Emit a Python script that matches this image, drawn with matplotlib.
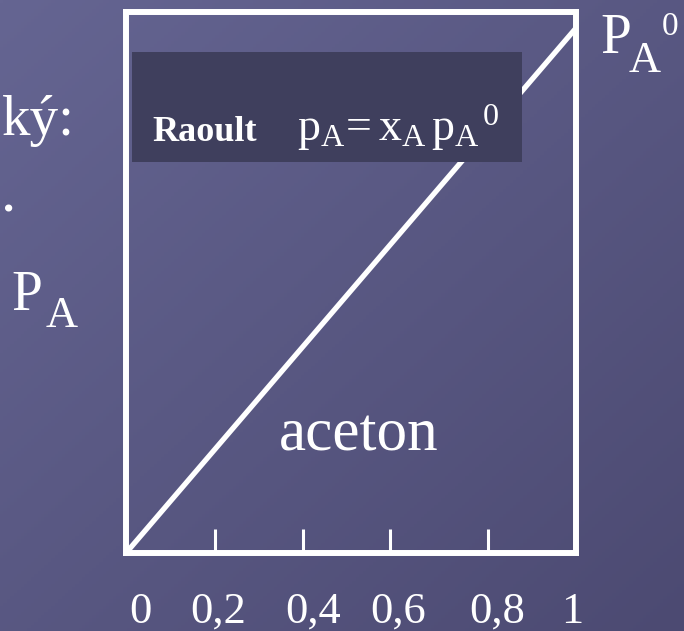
import numpy as np
import matplotlib
matplotlib.use("Agg")
import matplotlib.pyplot as plt
from matplotlib.patches import Rectangle

# ---- data ----
mole_fraction = [0.0, 1.0]          # x_A
rel_pressure = [0.0, 1.0]           # p_A / p_A^0 (Raoult, ideal line)
tick_marks = [0.198, 0.393, 0.587, 0.804]
tick_labels = ["0", "0,2", "0,4", "0,6", "0,8", "1"]
tick_label_values = [0.0, 0.2, 0.4, 0.6, 0.8, 1.0]
curve_label = "aceton"
law_name = "Raoult"
law_formula = r"$\mathrm{p_A\!=x_A\,{p_A}^{\,0}}$"

# ---- layout / style ----
W, H, DPI = 684, 631, 100
label_offsets = [0.033, 0.004, 0.016, 0.004, 0.024, -0.009]
plt.rcParams["font.family"] = ["Liberation Serif", "DejaVu Serif"]
plt.rcParams["mathtext.fontset"] = "custom"
plt.rcParams["mathtext.rm"] = "Liberation Serif"
plt.rcParams["mathtext.it"] = "Liberation Serif:italic"
plt.rcParams["mathtext.bf"] = "Liberation Serif:bold"

fig = plt.figure(figsize=(W / DPI, H / DPI), dpi=DPI)

def fx(px):
    return px / W

def fy(py):
    return 1 - py / H

# background gradient
bg = fig.add_axes([0, 0, 1, 1], zorder=-10)
yy, xx = np.mgrid[0:1:200j, 0:1:200j]
t = (xx + yy) / 2.0
c0 = np.array([101, 101, 146]) / 255.0
c1 = np.array([76, 74, 114]) / 255.0
img = c0[None, None, :] * (1 - t[..., None]) + c1[None, None, :] * t[..., None]
bg.imshow(img, extent=[0, 1, 0, 1], aspect="auto", origin="upper")
bg.set_axis_off()

# main axes
left, right, top, bottom = 126, 576, 12.3, 553
ax = fig.add_axes([fx(left), fy(bottom), (right - left) / W, (bottom - top) / H])
ax.set_facecolor("none")
ax.set_xlim(0, 1)
ax.set_ylim(0, 1.03)

ax.plot(mole_fraction, rel_pressure, color="white", lw=3.8,
        solid_capstyle="butt", zorder=2)

ax.add_patch(Rectangle((0.013, 0.723), 0.867, 0.204, transform=ax.transAxes,
                       facecolor="#3f3f5d", edgecolor="none", zorder=3))

for s in ax.spines.values():
    s.set_color("white")
    s.set_linewidth(4.3)
    s.set_zorder(5)

ax.set_xticks(tick_marks)
ax.set_yticks([])
ax.tick_params(axis="x", direction="in", length=17.3, width=2.2,
               color="white", labelbottom=False)

for v, lab, off in zip(tick_label_values, tick_labels, label_offsets):
    ax.text(v + off, -0.129, lab, transform=ax.get_xaxis_transform(),
            ha="center", va="baseline", color="white", fontsize=32,
            clip_on=False)

ax.text(0.516, 0.19, curve_label, transform=ax.transAxes, ha="center",
        va="baseline", color="white", fontsize=44, zorder=6)

# law box text
fig.text(fx(152), fy(141), law_name, ha="left", va="baseline", color="white",
         fontsize=26, fontweight="bold", zorder=10)
fig.text(fx(297), fy(141), law_formula, ha="left", va="baseline",
         color="white", fontsize=33, zorder=10)

# P_A^0 at top right
fig.text(fx(600), fy(53), "P", ha="left", va="baseline", color="white", fontsize=40)
fig.text(fx(629), fy(72), "A", ha="left", va="baseline", color="white", fontsize=32)
fig.text(fx(662), fy(35), "0", ha="left", va="baseline", color="white", fontsize=24)

# left P_A
fig.text(fx(11), fy(310), "P", ha="left", va="baseline", color="white", fontsize=40)
fig.text(fx(46), fy(327), "A", ha="left", va="baseline", color="white", fontsize=32)

# partially visible slide text on the left
fig.text(fx(75), fy(135), "ký:", ha="right", va="baseline", color="white", fontsize=41)
fig.text(fx(1), fy(212), ".", ha="left", va="baseline", color="white", fontsize=44)

fig.savefig("out.png", dpi=DPI)
